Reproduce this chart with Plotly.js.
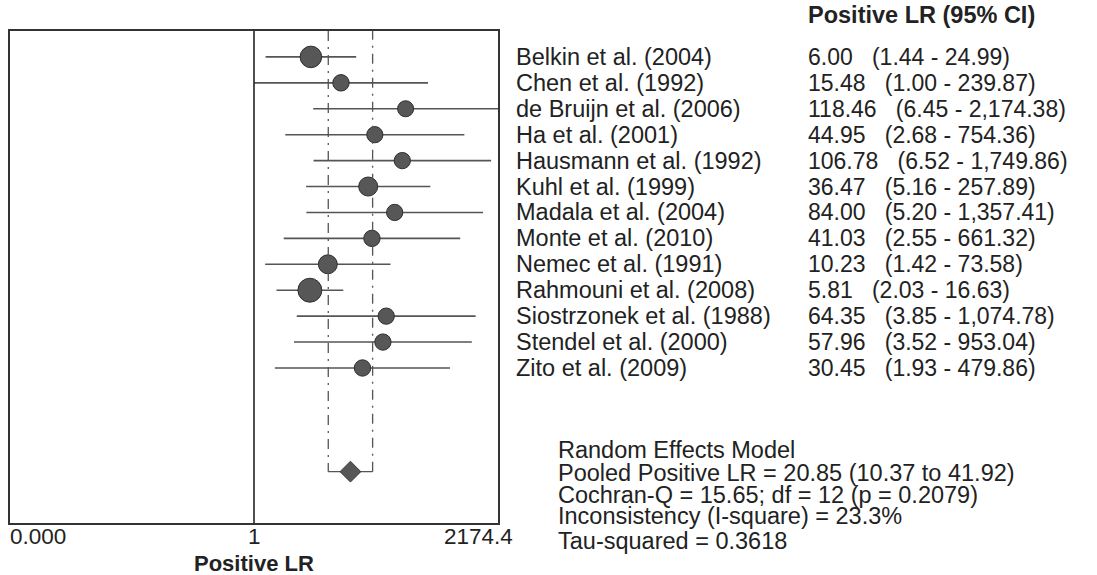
<!DOCTYPE html>
<html>
<head>
<meta charset="utf-8">
<script src="https://cdn.plot.ly/plotly-3.0.1.min.js"></script>
<style>html,body{margin:0;padding:0;background:#fff;}#chart{width:1097px;height:575px;}</style>
</head>
<body>
<div id="chart"></div>
<script>
// ---- data ----
const studies = ["Belkin et al. (2004)", "Chen et al. (1992)", "de Bruijn et al. (2006)", "Ha et al. (2001)",
  "Hausmann et al. (1992)", "Kuhl et al. (1999)", "Madala et al. (2004)", "Monte et al. (2010)",
  "Nemec et al. (1991)", "Rahmouni et al. (2008)", "Siostrzonek et al. (1988)", "Stendel et al. (2000)",
  "Zito et al. (2009)"];
const lrValues = [6.00, 15.48, 118.46, 44.95, 106.78, 36.47, 84.00, 41.03, 10.23, 5.81, 64.35, 57.96, 30.45];
const ciLower = [1.44, 1.00, 6.45, 2.68, 6.52, 5.16, 5.20, 2.55, 1.42, 2.03, 3.85, 3.52, 1.93];
const ciUpper = [24.99, 239.87, 2174.38, 754.36, 1749.86, 257.89, 1357.41, 661.32, 73.58, 16.63, 1074.78, 953.04, 479.86];
// estimated relative study weights (%)
const weights = [14.2, 5.5, 5.0, 5.2, 5.3, 9.4, 5.3, 5.4, 9.2, 19.6, 5.3, 5.3, 5.4];
const pooledLR = 20.85, pooledLower = 10.37, pooledUpper = 41.92;
const axisMax = 2174.4;
const tickLabels = ["0.000", "1", "2174.4"];
const columnHeader = "Positive LR (95% CI)";
const axisTitle = "Positive LR";
const statsLines = ["Random Effects Model",
  "Pooled Positive LR = 20.85 (10.37 to 41.92)",
  "Cochran-Q = 15.65; df = 12 (p = 0.2079)",
  "Inconsistency (I-square) = 23.3%",
  "Tau-squared = 0.3618"];

// ---- helpers ----
function fmt(v) {
  return v.toLocaleString("en-US", {minimumFractionDigits: 2, maximumFractionDigits: 2});
}
const FONT = "Liberation Sans, Arial, sans-serif";
const TXT = "#222";

// plot geometry (px)
const W = 1097, H = 575;
const L = 10, R = 599, T = 31, B = 52;
const plotW = W - L - R, plotH = H - T - B;
const pxX = px => (px - L) / plotW;
const pxY = py => (H - B - py) / plotH;

const n = studies.length;
const rows = studies.map((s, i) => i);
const pooledRow = 16;

// CI segments
const segX = [], segY = [];
for (let i = 0; i < n; i++) {
  segX.push(ciLower[i], Math.min(ciUpper[i], axisMax), null);
  segY.push(rows[i], rows[i], null);
}

const traces = [
  { type: "scatter", mode: "lines", x: segX, y: segY,
    line: {color: "#555", width: 1.6}, hoverinfo: "skip", showlegend: false },
  { type: "scatter", mode: "markers", x: lrValues, y: rows,
    marker: {symbol: "circle", color: "#575757", opacity: 1, size: weights.map(w => 8 + 3.6 * Math.sqrt(w)),
      line: {color: "#2e2e2e", width: 1}}, showlegend: false },
  // dashed pooled CI verticals
  { type: "scatter", mode: "lines", x: [pooledLower, pooledLower, null, pooledUpper, pooledUpper],
    y: [-1, pooledRow, null, pooledRow, -1],
    line: {color: "#555", width: 1.3, dash: "10px,6px,2px,6px"}, hoverinfo: "skip", showlegend: false },
  // bracket
  { type: "scatter", mode: "lines", x: [pooledLower, pooledUpper], y: [pooledRow, pooledRow],
    line: {color: "#555", width: 1.3}, hoverinfo: "skip", showlegend: false },
  // line of no effect
  { type: "scatter", mode: "lines", x: [1, 1], y: [-1.05, 18.05],
    line: {color: "#222", width: 1.6}, hoverinfo: "skip", showlegend: false },
  // pooled diamond
  { type: "scatter", mode: "markers", x: [pooledLR], y: [pooledRow],
    marker: {symbol: "diamond", color: "#575757", opacity: 1, size: 16, line: {color: "#3a3a3a", width: 1}}, showlegend: false }
];

const ann = [];
studies.forEach((s, i) => {
  ann.push({xref: "paper", yref: "y", x: pxX(514), y: rows[i], xanchor: "left", yanchor: "middle",
    text: s, showarrow: false, font: {family: FONT, size: 23.5, color: TXT}});
  ann.push({xref: "paper", yref: "y", x: pxX(806), y: rows[i], xanchor: "left", yanchor: "middle",
    text: fmt(lrValues[i]) + "   (" + fmt(ciLower[i]) + " - " + fmt(ciUpper[i]) + ")",
    showarrow: false, font: {family: FONT, size: 23, color: TXT}});
});
ann.push({xref: "paper", yref: "paper", x: pxX(806), y: pxY(15), xanchor: "left", yanchor: "middle",
  text: "<b>" + columnHeader + "</b>", showarrow: false, font: {family: FONT, size: 23.5, color: TXT}});
const statY = [450, 473, 495, 516, 541];
statsLines.forEach((t, k) => {
  ann.push({xref: "paper", yref: "paper", x: pxX(556), y: pxY(statY[k]), xanchor: "left", yanchor: "middle",
    text: t, showarrow: false, font: {family: FONT, size: 23.5, color: TXT}});
});
// tick labels
ann.push({xref: "paper", yref: "paper", x: pxX(8), y: pxY(536), xanchor: "left", yanchor: "middle",
  text: tickLabels[0], showarrow: false, font: {family: FONT, size: 22.5, color: TXT}});
ann.push({xref: "x", yref: "paper", x: Math.log10(1), y: pxY(536), xanchor: "center", yanchor: "middle",
  text: tickLabels[1], showarrow: false, font: {family: FONT, size: 22.5, color: TXT}});
ann.push({xref: "paper", yref: "paper", x: pxX(515), y: pxY(536), xanchor: "right", yanchor: "middle",
  text: tickLabels[2], showarrow: false, font: {family: FONT, size: 22.5, color: TXT}});
// axis title
ann.push({xref: "x", yref: "paper", x: Math.log10(1), y: pxY(563), xanchor: "center", yanchor: "middle",
  text: "<b>" + axisTitle + "</b>", showarrow: false, font: {family: FONT, size: 22, color: TXT}});

const lmax = Math.log10(axisMax);
const layout = {
  width: W, height: H,
  margin: {l: L, r: R, t: T, b: B, pad: 0},
  paper_bgcolor: "#fff", plot_bgcolor: "#fff",
  showlegend: false,
  xaxis: {type: "log", range: [-lmax, lmax], showgrid: false, zeroline: false,
    showticklabels: false, ticks: "", showline: true, mirror: true, linecolor: "#333", linewidth: 1.6, fixedrange: true},
  yaxis: {range: [17.98, -1.0], showgrid: false, zeroline: false, showticklabels: false, ticks: "",
    showline: true, mirror: true, linecolor: "#333", linewidth: 1.6, fixedrange: true},
  annotations: ann,
  font: {family: FONT, color: TXT}
};

Plotly.newPlot("chart", traces, layout, {staticPlot: true, displayModeBar: false});
</script>
</body>
</html>
